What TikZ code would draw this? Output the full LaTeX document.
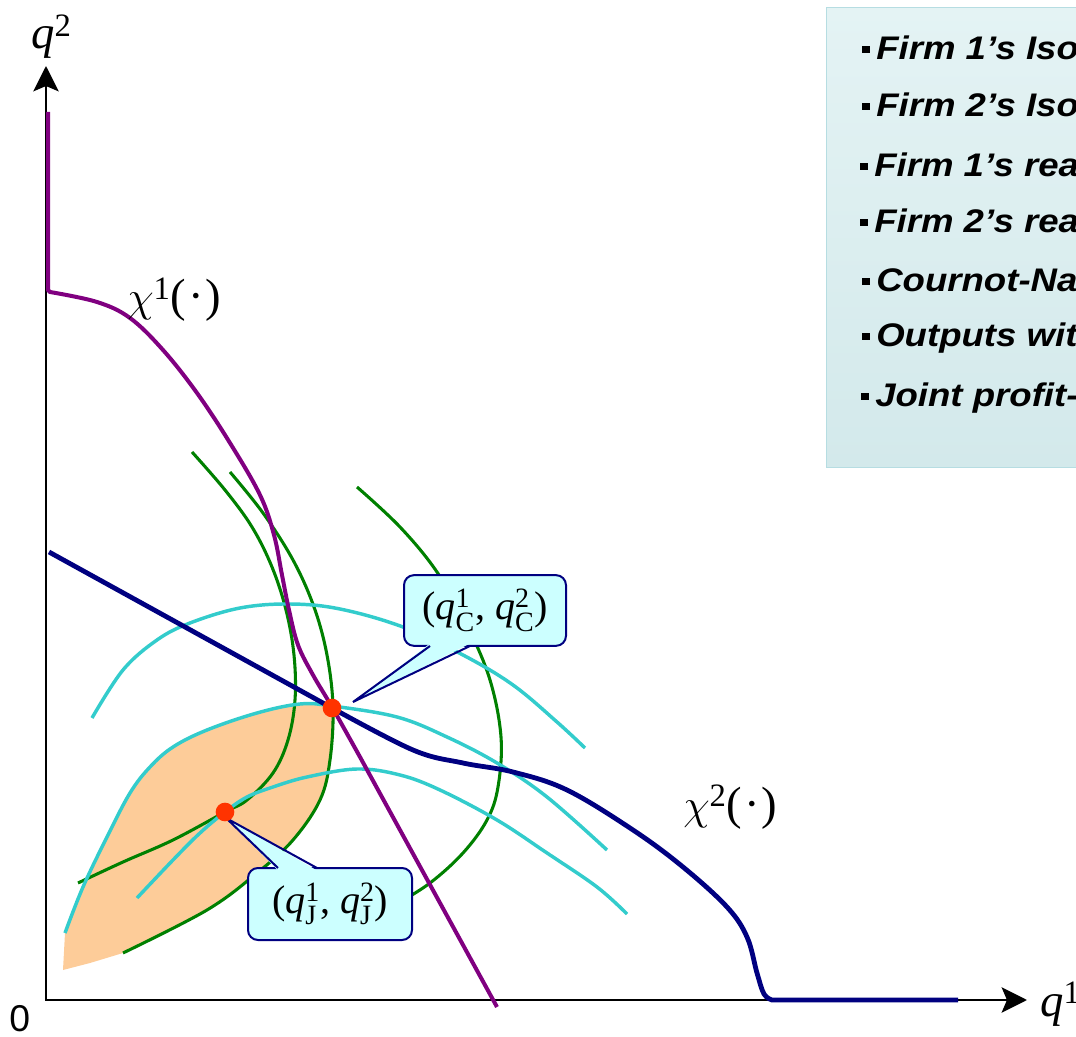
\documentclass[tikz,border=0pt]{standalone}
\usepackage{fontspec}
\usepackage{amsmath}
\usepackage{graphicx}
\setmainfont{Liberation Serif}
\newfontfamily\sansf{Liberation Sans}
\newfontfamily\legf[FakeStretch=1.12]{Liberation Sans}
\usetikzlibrary{arrows.meta}
\definecolor{rpurple}{RGB}{128,0,128}
\definecolor{rnavy}{RGB}{0,0,128}
\definecolor{isogreen}{RGB}{0,128,0}
\definecolor{isocyan}{RGB}{51,204,204}
\definecolor{peach}{RGB}{253,204,153}
\definecolor{dotred}{RGB}{255,51,0}
\definecolor{callfill}{RGB}{204,255,255}
\definecolor{legtop}{RGB}{228,243,244}
\definecolor{legbot}{RGB}{211,233,235}
\definecolor{legborder}{RGB}{182,221,226}
\begin{document}
\begin{tikzpicture}[x=0.75pt,y=-0.75pt,
  isoone/.style={draw=isogreen,line width=2.3pt},
  isotwo/.style={draw=isocyan,line width=2.6pt},
  reactone/.style={draw=rpurple,line width=3pt},
  reacttwo/.style={draw=rnavy,line width=3.6pt},
  axisline/.style={line width=2.2pt,{Stealth[length=19pt,width=19pt,inset=4pt]}-{Stealth[length=19pt,width=19pt,inset=4pt]}},
  eqdot/.style={circle,fill=dotred,inner sep=0pt,minimum size=14pt},
  callbox/.style={draw=rnavy,fill=callfill,line width=1.5pt,rounded corners=7.5pt,inner sep=0pt,font=\fontsize{30pt}{34pt}\selectfont},
  pointerfill/.style={fill=callfill},
  pointerline/.style={draw=rnavy,line width=1.5pt,line join=miter},
  legitem/.style={anchor=base west,inner sep=0pt,font=\legf\bfseries\itshape\fontsize{24.5pt}{28pt}\selectfont},
  lbl/.style={anchor=base west,inner sep=0pt},
  legbox/.style={draw=legborder,line width=0.8pt,top color=legtop,bottom color=legbot,anchor=north west,inner sep=0pt}
]
\useasboundingbox (0,0) rectangle (1076,1037);

% legend
\node[legbox,minimum width=198pt,minimum height=345pt] (legend) at (826,7) {};
\node[legitem] (l1) at (862,60) {\rule[5pt]{5.5pt}{5.5pt}\hspace{5pt}Firm 1’s Isoprofit curves};
\node[legitem] (l2) at (862,117) {\rule[5pt]{5.5pt}{5.5pt}\hspace{5pt}Firm 2’s Isoprofit curves};
\node[legitem] (l3) at (860,177) {\rule[5pt]{5.5pt}{5.5pt}\hspace{5pt}Firm 1’s reaction function};
\node[legitem] (l4) at (860,233) {\rule[5pt]{5.5pt}{5.5pt}\hspace{5pt}Firm 2’s reaction function};
\node[legitem] (l5) at (862,292) {\rule[5pt]{5.5pt}{5.5pt}\hspace{5pt}Cournot-Nash equilibrium};
\node[legitem] (l6) at (862,347) {\rule[5pt]{5.5pt}{5.5pt}\hspace{5pt}Outputs with higher profits for both firms};
\node[legitem] (l7) at (861,407) {\rule[5pt]{5.5pt}{5.5pt}\hspace{5pt}Joint profit-maximising solution};

% peach region
\fill[peach] (63,970) -- (65,933)
  -- plot[smooth,tension=0.6] coordinates {(65,933) (83,887) (107,837) (130,793) (150,767) (173,747) (207,730) (257,713) (300,704) (332,706)}
  -- plot[smooth,tension=0.6] coordinates {(333,707) (330,760) (320,800) (293,840) (257,873) (207,910) (123,953)}
  -- (90,963) -- cycle;

% axes
\coordinate (O) at (46,1000);
\coordinate (ytip) at (46,66);
\coordinate (xtip) at (1027,1000);
\draw[axisline] (ytip) -- (O) -- (xtip);
\node[lbl,font=\fontsize{35pt}{40pt}\selectfont] (q2) at (31,49) {\textit{q}$^{\text{2}}$};
\node[lbl,font=\fontsize{35pt}{40pt}\selectfont] (q1) at (1040,1016) {\textit{q}$^{\text{1}}$};
\node[lbl,font=\sansf\fontsize{28pt}{32pt}\selectfont] (zero) at (9,1031) {0};

% firm 1 isoprofits (green)
\draw[isoone] plot[smooth,tension=0.6] coordinates {(192,452) (225,490) (252,527) (272,567) (286,610) (294,655) (295,700) (288,740) (273,773) (247,800) (225,812) (173,840) (123,862) (78,883)};
\draw[isoone] plot[smooth,tension=0.6] coordinates {(230,472) (263,513) (293,560) (314,607) (327,655) (333,707) (330,760) (320,800) (293,840) (257,873) (207,910) (123,953)};
\draw[isoone] plot[smooth,tension=0.6] coordinates {(357,487) (400,527) (437,572) (467,625) (490,680) (501,737) (498,787) (487,820) (463,853) (430,883) (395,905)};

% firm 2 isoprofits (cyan)
\draw[isotwo] plot[smooth,tension=0.6] coordinates {(92,718) (123,670) (157,640) (190,623) (240,608) (290,604) (340,609) (403,627) (463,655) (513,685) (557,722) (585,748)};
\draw[isotwo] plot[smooth,tension=0.6] coordinates {(65,933) (83,887) (107,837) (130,793) (150,767) (173,747) (207,730) (257,713) (300,704) (332,706) (397,717) (447,737) (497,763) (547,797) (607,850)};
\draw[isotwo] plot[smooth,tension=0.6] coordinates {(137,898) (173,860) (200,833) (225,812) (247,797) (273,787) (307,777) (357,769) (400,775) (440,790) (497,820) (547,853) (597,887) (627,914)};

% reaction functions
\draw[reactone] (48,112) -- (48,290) -- plot[smooth,tension=0.6] coordinates {(50,292) (97,302) (130,318) (163,350) (197,393) (230,443) (260,495) (274,535) (282,575) (289,610) (298,645) (313,675) (332,707) (360,757)} -- (497,1007);
\draw[reacttwo] (49,552) -- plot[smooth,tension=0.6] coordinates {(332,708) (413,750) (463,763) (513,772) (567,790) (633,830) (683,867) (727,907) (747,937) (757,973) (764,994) (772,1000)} -- (958,1000);
\node[lbl,font=\fontsize{35pt}{40pt}\selectfont] (chi1) at (127,312) {\scalebox{1.3}{$\chi$}$^{\text{1}}$(\kern1.5pt·\kern1.5pt)};
\node[lbl,font=\fontsize{35pt}{40pt}\selectfont] (chi2) at (683,819) {\scalebox{1.3}{$\chi$}$^{\text{2}}$(\kern1.5pt·\kern1.5pt)};

% equilibrium points
\coordinate (Cpt) at (332,708);
\coordinate (Jpt) at (225,812);

% callout C
\node[callbox,minimum width=121.5pt,minimum height=53pt] (boxC) at (485,610.5) {(\textit{q}$^{\text{1}}_{\text{C}}$, \textit{q}$^{\text{2}}_{\text{C}}$)};
\coordinate (tipC) at (353,702);
\coordinate (cbl) at (430,646);
\coordinate (cbr) at (470,646);
\fill[pointerfill] (430,643.5) -- (tipC) -- (470,643.5) -- cycle;
\draw[pointerline] (cbl) -- (tipC) -- (cbr);

% callout J
\node[callbox,minimum width=123pt,minimum height=54pt] (boxJ) at (330,904) {(\textit{q}$^{\text{1}}_{\text{J}}$, \textit{q}$^{\text{2}}_{\text{J}}$)};
\coordinate (tipJ) at (226,818);
\coordinate (jbl) at (278,868);
\coordinate (jbr) at (317,868);
\fill[pointerfill] (278,870.5) -- (tipJ) -- (317,870.5) -- cycle;
\draw[pointerline] (jbl) -- (tipJ) -- (jbr);

\node[eqdot] (C) at (Cpt) {};
\node[eqdot] (J) at (Jpt) {};
\end{tikzpicture}
\end{document}
